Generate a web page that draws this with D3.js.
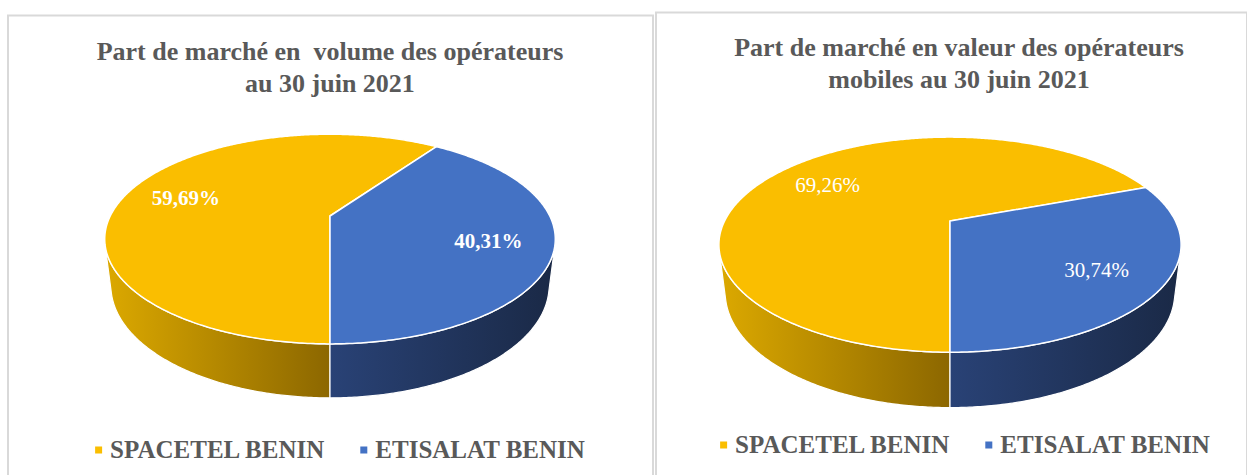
<!DOCTYPE html>
<html><head><meta charset="utf-8">
<script src="https://cdn.jsdelivr.net/npm/d3@7"></script>
<style>body{margin:0;background:#fff;} svg{display:block;}</style>
</head><body>
<svg id="chart" width="1247" height="475"></svg>
<script>
// ---- data ----
const categories = ["SPACETEL BENIN", "ETISALAT BENIN"];
const volumeShares = [59.69, 40.31];
const valueShares = [69.26, 30.74];
const titleVolume = ["Part de marché en  volume des opérateurs", "au 30 juin 2021"];
const titleValue = ["Part de marché en valeur des opérateurs", "mobiles au 30 juin 2021"];
const sliceColors = ["#FABE00", "#4472C4"];

// ---- layout ----
const svg = d3.select("#chart");
const defs = svg.append("defs");
const FONT = "'Liberation Serif', 'Times New Roman', serif";
const TEXT_GRAY = "#595959";
const fr = d3.formatLocale({decimal: ",", thousands: " ", grouping: [3], currency: ["", ""]});
const pct = v => fr.format(".2f")(v) + "%";

const panels = [
  {id: "vol", values: volumeShares, title: titleVolume, box: [8, 15.5, 645, 470],
   titleX: 330, titleY: [60, 92], cx: 330, cy: 216, k: 890, labelWeight: "bold",
   legendCx: 340, legendY: 458},
  {id: "val", values: valueShares, title: titleValue, box: [656, 12.5, 591, 470],
   titleX: 959, titleY: [56, 88], cx: 950, cy: 221, k: 913, labelWeight: "normal",
   legendCx: 965, legendY: 453}
];

const phi = 27 * Math.PI / 180, D = 4.05, H = 0.24;
const cph = Math.cos(phi), sph = Math.sin(phi);

function project(p, theta, r, Y) {
  const X = r * Math.sin(theta), Z = -r * Math.cos(theta);
  const yUp = Y * cph - Z * sph;
  const depth = D - Y * sph - Z * cph;
  return [p.cx + p.k * X / depth, p.cy - p.k * yUp / depth];
}

const pieGen = d3.pie().sort(null).value(d => d).startAngle(Math.PI).endAngle(3 * Math.PI);
const halfVis = Math.acos(1 / (D * cph));
const visRanges = [[Math.PI - halfVis, Math.PI + halfVis], [3 * Math.PI - halfVis, 3 * Math.PI + halfVis]];

function arcPoints(p, a0, a1, r, Y) {
  const n = Math.max(2, Math.ceil(Math.abs(a1 - a0) / 0.01));
  return d3.range(n + 1).map(i => project(p, a0 + (a1 - a0) * i / n, r, Y));
}

const wallStops = [
  [["0", "#DCA900"], ["0.5", "#8C6700"]],
  [["0.5", "#294276"], ["1", "#1A2946"]]
];

panels.forEach(p => {
  // panel border
  svg.append("rect").attr("x", p.box[0]).attr("y", p.box[1])
    .attr("width", p.box[2]).attr("height", p.box[3])
    .attr("fill", "none").attr("stroke", "#D9D9D9").attr("stroke-width", 2);

  // title
  p.title.forEach((line, i) => {
    svg.append("text").attr("x", p.titleX).attr("y", p.titleY[i])
      .attr("text-anchor", "middle").style("white-space", "pre")
      .attr("font-family", FONT).attr("font-size", 26).attr("font-weight", "bold")
      .attr("fill", TEXT_GRAY).text(line);
  });

  const arcs = pieGen(p.values);
  const rxMax = p.k / Math.sqrt(D * D - cph * cph);

  // gradients
  arcs.forEach((a, i) => {
    const g = defs.append("linearGradient").attr("id", `g-${p.id}-${i}`)
      .attr("gradientUnits", "userSpaceOnUse")
      .attr("x1", p.cx - rxMax).attr("x2", p.cx + rxMax).attr("y1", 0).attr("y2", 0);
    wallStops[i].forEach(s => g.append("stop").attr("offset", s[0]).attr("stop-color", s[1]));
  });

  const line = d3.line();
  // walls
  arcs.forEach((a, i) => {
    visRanges.forEach(vr => {
      const t0 = Math.max(a.startAngle, vr[0]), t1 = Math.min(a.endAngle, vr[1]);
      if (t1 <= t0) return;
      const pts = arcPoints(p, t0, t1, 1, 0).concat(arcPoints(p, t1, t0, 1, -H));
      svg.append("path").attr("d", line(pts) + "Z")
        .attr("fill", `url(#g-${p.id}-${i})`)
        .attr("stroke", "#fff").attr("stroke-width", 1.2).attr("stroke-linejoin", "round");
    });
  });

  // top faces
  arcs.forEach((a, i) => {
    const pts = [[p.cx, p.cy]].concat(arcPoints(p, a.startAngle, a.endAngle, 1, 0));
    svg.append("path").attr("d", line(pts) + "Z")
      .attr("fill", sliceColors[i]).attr("stroke", "#fff").attr("stroke-width", 1.5)
      .attr("stroke-linejoin", "round");
  });

  // labels
  arcs.forEach((a, i) => {
    const mid = (a.startAngle + a.endAngle) / 2;
    const [lx, ly] = project(p, mid, 0.72, 0);
    svg.append("text").attr("x", lx).attr("y", ly).attr("dy", "0.45em")
      .attr("text-anchor", "middle").attr("font-family", FONT).attr("font-size", 21)
      .attr("font-weight", p.labelWeight).attr("fill", "#fff").text(pct(a.data));
  });

  // legend
  const lg = svg.append("g");
  let x = 0;
  const items = categories.map((c, i) => {
    const m = lg.append("rect").attr("width", 7).attr("height", 7).attr("fill", sliceColors[i]);
    const t = lg.append("text").attr("font-family", FONT).attr("font-size", 25)
      .attr("font-weight", "bold").attr("fill", TEXT_GRAY).text(c);
    return {m, t};
  });
  items.forEach((it, i) => {
    it.m.attr("x", x).attr("y", p.legendY - 11.5);
    it.t.attr("x", x + 15).attr("y", p.legendY);
    x += 15 + it.t.node().getComputedTextLength() + 36;
  });
  const total = x - 36;
  lg.attr("transform", `translate(${p.legendCx - total / 2},0)`);
});
</script>
</body></html>
